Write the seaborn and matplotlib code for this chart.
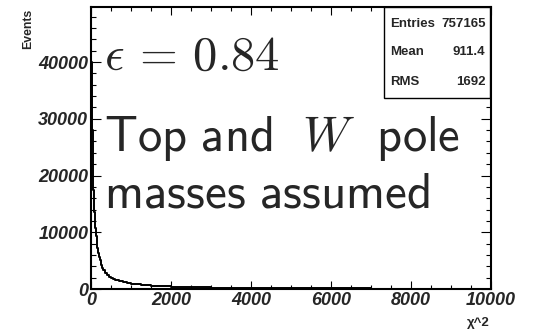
import matplotlib
matplotlib.use("Agg")
import matplotlib.pyplot as plt
from matplotlib.patches import Rectangle
import pandas as pd
import seaborn as sns

# chi^2 histogram: bin edges and bin heights (events per 10-unit bin)
bin_edges = [0, 10, 20, 30, 40, 50, 60, 70, 80, 90,
             100, 120, 140, 160, 180, 200, 220, 240, 260, 280,
             300, 350, 400, 450, 500, 550,
             600, 700, 800, 900,
             1000, 1250, 1500, 1750,
             2000, 2500, 3000, 3500,
             4000, 5000, 6000, 7000, 8000, 9000, 10000]
bin_heights = [47300, 40000, 33000, 28000, 24000, 20500, 17500, 15500, 13500, 12000,
               10800, 9400, 8200, 7200, 6400, 5700, 5100, 4600, 4150, 3750,
               3300, 2850, 2500, 2200, 1950, 1750,
               1550, 1330, 1150, 1000,
               850, 700, 580, 490,
               400, 320, 260, 210,
               160, 120, 90, 70, 55, 45]

# statistics box and annotation values
stat_names = ["Entries", "Mean", "RMS"]
stat_values = ["757165", "911.4", "1692"]
epsilon = "0.84"

x_ticks = [0, 2000, 4000, 6000, 8000, 10000]
y_ticks = [0, 10000, 20000, 30000, 40000]

W, H = 535, 330

sns.set_style("ticks")
plt.rcParams["font.family"] = ["Liberation Sans", "DejaVu Sans"]
plt.rcParams["mathtext.fontset"] = "cm"


def fx(px):
    return px / W


def fy(py):
    return 1 - py / H


fig = plt.figure(figsize=(W / 100, H / 100), dpi=100)
ax = fig.add_axes([fx(91), fy(289), (491 - 91) / W, (289 - 7) / H])

centers = [(a + b) / 2 for a, b in zip(bin_edges[:-1], bin_edges[1:])]
df = pd.DataFrame({"chi2": centers, "events": bin_heights})
sns.histplot(data=df, x="chi2", weights="events", bins=bin_edges,
             element="step", fill=False, color="black", linewidth=1.4, ax=ax)

ax.set_xlim(0, 10000)
ax.set_ylim(0, 49700)
ax.set_xlabel("")
ax.set_ylabel("")

tick_font = dict(fontsize=13, fontweight="bold", fontstyle="italic")
ax.set_xticks(x_ticks, [str(v) for v in x_ticks], **tick_font)
ax.set_yticks(y_ticks, [str(v) for v in y_ticks], **tick_font)
ax.set_xticks(range(0, 10001, 500), minor=True)
ax.set_yticks(range(0, 49001, 2000), minor=True)

ax.tick_params(which="both", direction="in", top=True, right=True,
               width=0.8, color="black")
ax.tick_params(axis="y", which="major", length=7.5, pad=2)
ax.tick_params(axis="y", which="minor", length=3.8)
ax.tick_params(axis="x", which="major", length=5.5, pad=2.5)
ax.tick_params(axis="x", which="minor", length=3)
for s in ax.spines.values():
    s.set_linewidth(1.5)
    s.set_color("black")

# big annotation lines
ax.text(0.033, (289 - 70) / 282, rf"$\epsilon\,=\,{epsilon}$", fontsize=35,
        transform=ax.transAxes, va="baseline", ha="left")
ax.text(0.033, (289 - 150.7) / 282, r"$\mathsf{Top\ and}\ \ W\ \ \mathsf{pole}$",
        fontsize=35, transform=ax.transAxes, va="baseline", ha="left")
ax.text(0.033, (289 - 208) / 282, r"$\mathsf{masses\ assumed}$",
        fontsize=35.4, transform=ax.transAxes, va="baseline", ha="left")

# statistics box
box = Rectangle((fx(384), fy(97.5)), (490.5 - 384) / W, (97.5 - 7) / H,
                transform=fig.transFigure, facecolor="white", edgecolor="black",
                linewidth=1.0, zorder=5, clip_on=False)
fig.patches.append(box)
for name, val, base in zip(stat_names, stat_values, [26.7, 55.3, 85]):
    fig.text(fx(390.5), fy(base), name, fontsize=9.5, fontweight="bold",
             ha="left", va="baseline", zorder=6)
    fig.text(fx(485.5), fy(base), val, fontsize=9.5, fontweight="bold",
             ha="right", va="baseline", zorder=6)

# axis titles
fig.text(fx(28), fy(9), "Events", rotation=90, fontsize=8.8, fontweight="bold",
         ha="center", va="top")
fig.text(fx(489.5), fy(326), "χ^2", fontsize=9.5, fontweight="bold",
         ha="right", va="baseline")

fig.savefig("out.png", dpi=100)
